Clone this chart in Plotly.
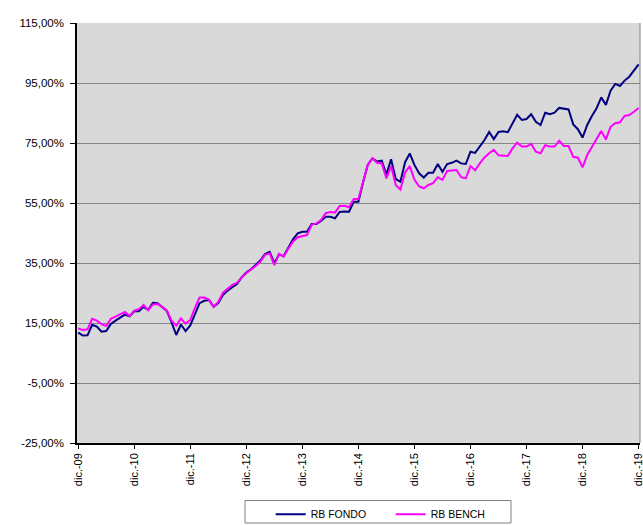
import plotly.graph_objects as go

MONTHS = ["ene.", "feb.", "mar.", "abr.", "may.", "jun.", "jul.", "ago.", "sept.", "oct.", "nov.", "dic."]
YEARS = ["09", "10", "11", "12", "13", "14", "15", "16", "17", "18", "19"]

# categories: dic.-09 ... dic.-19 (monthly)
categories = ["dic.-09"] + [f"{m}-{y}" for y in YEARS[1:] for m in MONTHS]
tick_labels = [f"dic.-{y}" for y in YEARS]

y_tick_values = [-25, -5, 15, 35, 55, 75, 95, 115]
y_tick_labels = ["-25,00%", "-5,00%", "15,00%", "35,00%", "55,00%", "75,00%", "95,00%", "115,00%"]

rb_fondo = [
    11.8, 10.8, 10.9, 14.4, 13.8, 12.1, 12.3, 14.7, 15.8, 16.8,
    17.8, 17.2, 18.9, 18.9, 20.4, 19.4, 21.7, 21.6, 20.4, 19.0,
    15.2, 11.0, 14.5, 12.3, 14.2, 18.0, 21.6, 22.4, 22.7, 20.4,
    21.6, 24.3, 25.8, 26.9, 28.0, 30.2, 31.8, 32.9, 34.3, 35.8,
    38.0, 38.7, 35.0, 37.8, 37.3, 39.9, 42.9, 44.9, 45.4, 45.4,
    48.0, 48.0, 49.0, 50.4, 50.4, 49.9, 52.0, 52.2, 52.1, 55.4,
    55.4, 61.8, 67.7, 69.9, 68.8, 69.1, 64.5, 69.6, 63.0, 62.1,
    68.6, 71.5, 67.7, 64.9, 63.5, 65.1, 65.1, 68.0, 65.4, 68.0,
    68.4, 69.1, 68.2, 68.0, 72.1, 71.7, 73.7, 76.0, 78.7, 76.3,
    78.7, 78.9, 78.6, 81.6, 84.4, 82.7, 83.0, 84.6, 82.1, 81.0,
    85.1, 84.6, 85.1, 86.7, 86.4, 86.2, 81.2, 79.6, 76.8, 81.0,
    84.0, 86.6, 90.2, 87.7, 92.4, 94.7, 94.0, 95.8, 97.1, 99.1,
    101.2,
]

rb_bench = [
    13.2, 12.7, 12.9, 16.4, 15.8, 14.6, 14.0, 16.4, 17.1, 17.9,
    18.7, 17.3, 19.1, 19.6, 21.0, 19.3, 21.2, 21.3, 20.4, 19.1,
    15.8, 14.1, 16.5, 14.8, 16.0, 20.0, 23.5, 23.5, 22.8, 20.4,
    22.0, 25.1, 26.4, 27.7, 28.4, 30.2, 31.6, 32.7, 34.0, 35.4,
    37.7, 38.2, 34.3, 38.1, 37.1, 39.8, 42.1, 43.6, 44.0, 44.3,
    47.7, 48.2, 49.3, 51.6, 52.0, 51.8, 54.0, 54.1, 53.6, 56.3,
    56.3, 61.8, 67.7, 69.9, 68.4, 68.2, 63.2, 67.3, 61.0, 59.5,
    65.2, 67.3, 62.8, 60.5, 59.9, 61.0, 61.6, 63.6, 62.7, 65.7,
    65.9, 66.0, 63.6, 63.2, 67.3, 65.9, 68.2, 70.2, 71.6, 72.7,
    70.9, 70.7, 70.7, 73.2, 75.1, 73.8, 73.8, 74.7, 72.1, 71.6,
    74.3, 73.8, 73.8, 75.7, 74.0, 74.0, 70.4, 70.1, 66.9, 71.0,
    73.8, 76.6, 79.0, 76.2, 80.4, 81.6, 81.9, 84.0, 84.3, 85.4,
    86.7,
]

FONT = "Liberation Sans, Arial, sans-serif"

fig = go.Figure()
fig.add_trace(go.Scatter(x=categories, y=rb_fondo, mode="lines", name="RB FONDO",
                         line=dict(color="#000080", width=2)))
fig.add_trace(go.Scatter(x=categories, y=rb_bench, mode="lines", name="RB BENCH",
                         line=dict(color="#FF00FF", width=2)))

fig.update_layout(
    width=643, height=525,
    margin=dict(l=77, r=3, t=23, b=82, autoexpand=False),
    plot_bgcolor="#D9D9D9", paper_bgcolor="white",
    font=dict(family=FONT, size=11, color="black"),
    showlegend=True,
    legend=dict(orientation="h", x=0.344, xanchor="left", y=-0.135, yanchor="top",
                font=dict(family=FONT, size=10.5, color="black"),
                itemwidth=30, borderwidth=0, bgcolor="rgba(0,0,0,0)",
                entrywidth=75),
    shapes=[
        dict(type="line", xref="paper", yref="paper", x0=1, x1=1, y0=0, y1=1,
             line=dict(color="#808080", width=1)),
        dict(type="rect", xref="paper", yref="paper",
             x0=(245 - 77) / 563, x1=(511 - 77) / 563,
             y0=(443 - 523) / 420, y1=(443 - 500.5) / 420,
             line=dict(color="#808080", width=1), fillcolor="rgba(0,0,0,0)"),
    ],
)

fig.update_xaxes(
    type="category", categoryorder="array", categoryarray=categories,
    range=[-0.25, 120.3], automargin=False,
    tickmode="array", tickvals=tick_labels, ticktext=tick_labels,
    tickangle=-90, tickfont=dict(family=FONT, size=11, color="black"),
    ticks="outside", ticklen=4, tickcolor="black",
    showline=True, linecolor="black", linewidth=1.5,
    showgrid=False, zeroline=False,
)
fig.update_yaxes(
    range=[-25, 115], automargin=False,
    tickmode="array", tickvals=y_tick_values, ticktext=y_tick_labels,
    tickfont=dict(family=FONT, size=11.5, color="black"),
    ticks="outside", ticklen=5, tickcolor="black", ticklabelstandoff=4,
    showline=True, linecolor="black", linewidth=1.5,
    showgrid=True, gridcolor="#868686", gridwidth=1,
    zeroline=False,
)

fig.write_html(
    "out.html",
    config={"displayModeBar": False},
    post_script="document.body.style.margin='0px';document.body.style.overflow='hidden';",
)
